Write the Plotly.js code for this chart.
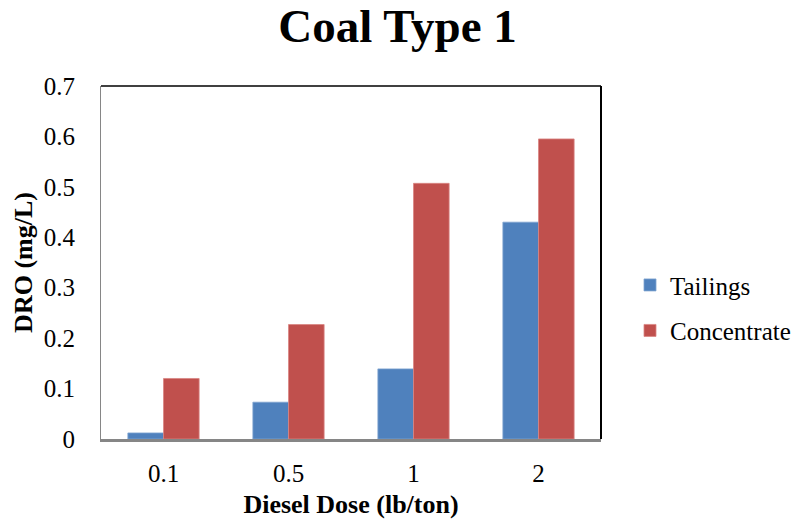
<!DOCTYPE html>
<html>
<head>
<meta charset="utf-8">
<script src="https://cdn.plot.ly/plotly-3.0.1.min.js"></script>
<style>
  html, body { margin: 0; padding: 0; background: #fff; }
  #chart { width: 795px; height: 527px; }
</style>
</head>
<body>
<div id="chart"></div>
<script>
// Diesel dose categories and DRO readings per stream
const doses = ["0.1", "0.5", "1", "2"];
const tailings = [0.012, 0.073, 0.139, 0.430];
const concentrate = [0.120, 0.227, 0.507, 0.595];
const yTicks = [0, 0.1, 0.2, 0.3, 0.4, 0.5, 0.6, 0.7];
const yTickText = ["0", "0.1", "0.2", "0.3", "0.4", "0.5", "0.6", "0.7"];

const serif = "Liberation Serif, Times New Roman, serif";

const traces = [
  {
    type: "bar", name: "Tailings", x: doses, y: tailings,
    marker: { color: "#4F81BD", line: { color: "#7FA3D1", width: 0.8 } },
    legendgroup: "a", hoverinfo: "y"
  },
  {
    type: "bar", name: "Concentrate", x: doses, y: concentrate,
    marker: { color: "#C0504D", line: { color: "#D98583", width: 0.8 } },
    legendgroup: "b", hoverinfo: "y"
  }
];

const layout = {
  width: 795, height: 527,
  margin: { l: 101, r: 194, t: 86, b: 88, autoexpand: false },
  paper_bgcolor: "#fff", plot_bgcolor: "#fff",
  font: { family: serif, color: "#000", size: 25 },
  title: {
    text: "<b>Coal Type 1</b>",
    font: { family: serif, size: 47, color: "#000" },
    x: 0.5, xanchor: "center", y: 0.952, yanchor: "middle"
  },
  barmode: "group",
  bargap: 0.43,
  bargroupgap: 0,
  xaxis: {
    type: "category",
    showline: true, linecolor: "#868686", linewidth: 2.5,
    ticks: "", showgrid: false, zeroline: false,
    tickfont: { family: serif, size: 25, color: "#000" },
    ticklabelstandoff: 10,
    title: { text: "<b>Diesel Dose (lb/ton)</b>", font: { family: serif, size: 26, color: "#000" }, standoff: 10 }
  },
  yaxis: {
    range: [0, 0.7],
    tickvals: yTicks, ticktext: yTickText,
    showline: true, linecolor: "#868686", linewidth: 1,
    ticks: "", showgrid: false, zeroline: false,
    tickfont: { family: serif, size: 25, color: "#000" },
    ticklabelstandoff: 20,
    title: { text: "<b>DRO (mg/L)</b>", font: { family: serif, size: 26, color: "#000" }, standoff: 3 }
  },
  shapes: [
    { type: "line", xref: "paper", yref: "paper", x0: 0, x1: 1, y0: 1, y1: 1,
      line: { color: "#000", width: 1.5 } },
    { type: "line", xref: "paper", yref: "paper", x0: 1, x1: 1, y0: 0, y1: 1,
      line: { color: "#000", width: 2 } }
  ],
  showlegend: true,
  legend: {
    x: 1.058, xanchor: "left", y: 0.372, yanchor: "middle",
    font: { family: serif, size: 25, color: "#000" },
    traceorder: "grouped", tracegroupgap: 10,
    bgcolor: "rgba(0,0,0,0)", itemwidth: 30
  }
};

Plotly.newPlot("chart", traces, layout, { displayModeBar: false, staticPlot: true });
</script>
</body>
</html>
